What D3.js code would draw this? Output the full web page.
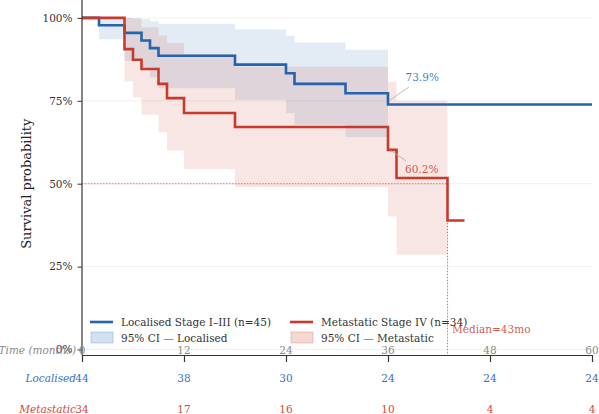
<!DOCTYPE html>
<html>
<head>
<meta charset="utf-8">
<script src="https://cdn.jsdelivr.net/npm/d3@7"></script>
<style>
  body { margin: 0; background: white; }
  svg { display: block; font-family: "DejaVu Serif", serif; }
</style>
</head>
<body>
<div id="vis"></div>
<script>
const SVG = d3.select("#vis").append("svg");
const WIDTH = 599;
const HEIGHT = 414;
SVG.attr("width", WIDTH).attr("height", HEIGHT);

const AZUL = "#2463ad";
const ROJO = "#c83a2c";

// Curvas Kaplan-Meier (tiempo en meses, supervivencia)
const LOCAL_TIEMPOS = [0, 2, 5, 7, 8, 9, 18, 24, 25, 31, 36];
const LOCAL_SUPERV = [1, 0.978, 0.955, 0.932, 0.909, 0.886, 0.859, 0.833, 0.801, 0.773, 0.739];
const LOCAL_FIN = 60;

const META_TIEMPOS = [0, 5, 6, 7, 9, 10, 12, 18, 36, 37, 43];
const META_SUPERV = [1, 0.906, 0.874, 0.846, 0.801, 0.758, 0.713, 0.671, 0.602, 0.517, 0.389];
const META_FIN = 45;

// Intervalos de confianza 95%
const LOCAL_IC_TIEMPOS = [2, 5, 7, 8, 9, 18, 24, 25, 31];
const LOCAL_IC_INF = [0.936, 0.87, 0.845, 0.82, 0.788, 0.753, 0.713, 0.678, 0.641];
const LOCAL_IC_SUP = [1.0, 1.0, 0.997, 0.99, 0.982, 0.965, 0.946, 0.926, 0.904];
const LOCAL_IC_FIN = 36;

const META_IC_TIEMPOS = [5, 6, 7, 9, 10, 12, 18, 36, 37];
const META_IC_INF = [0.808, 0.761, 0.708, 0.655, 0.600, 0.544, 0.490, 0.401, 0.286];
const META_IC_SUP = [1.0, 0.997, 0.972, 0.947, 0.924, 0.891, 0.853, 0.808, 0.75];
const META_IC_FIN = 43;

// Tabla de pacientes en riesgo
const TIEMPOS_TABLA = [0, 12, 24, 36, 48, 60];
const RIESGO_LOCAL = [44, 38, 30, 24, 24, 24];
const RIESGO_META = [34, 17, 16, 10, 4, 4];

const Y_TICKS = [0, 0.25, 0.5, 0.75, 1];
const MEDIANA_META = 43;

const escalaX = d3.scaleLinear().domain([0, 60]).range([82, 592]);
const escalaY = d3.scaleLinear().domain([-0.0166, 1.054]).range([355, 0]);

// grilla
SVG.append("g")
  .selectAll("line")
  .data(Y_TICKS)
  .join("line")
  .attr("x1", escalaX(0))
  .attr("x2", escalaX(60))
  .attr("y1", d => escalaY(d))
  .attr("y2", d => escalaY(d))
  .attr("stroke", "#ececec")
  .attr("stroke-width", 0.8);

function pasos(tiempos, valores, fin) {
  const pts = tiempos.map((t, i) => ({ t: t, v: valores[i] }));
  pts.push({ t: fin, v: valores[valores.length - 1] });
  return pts;
}

function bandas(tiempos, inf, sup, fin) {
  const pts = tiempos.map((t, i) => ({ t: t, lo: inf[i], hi: sup[i] }));
  pts.push({ t: fin, lo: inf[inf.length - 1], hi: sup[sup.length - 1] });
  return pts;
}

const area = d3.area()
  .curve(d3.curveStepAfter)
  .x(d => escalaX(d.t))
  .y0(d => escalaY(d.lo))
  .y1(d => escalaY(d.hi));

const linea = d3.line()
  .curve(d3.curveStepAfter)
  .x(d => escalaX(d.t))
  .y(d => escalaY(d.v));

SVG.append("path")
  .attr("d", area(bandas(LOCAL_IC_TIEMPOS, LOCAL_IC_INF, LOCAL_IC_SUP, LOCAL_IC_FIN)))
  .attr("fill", AZUL)
  .attr("opacity", 0.13);

SVG.append("path")
  .attr("d", area(bandas(META_IC_TIEMPOS, META_IC_INF, META_IC_SUP, META_IC_FIN)))
  .attr("fill", ROJO)
  .attr("opacity", 0.13);

// mediana
SVG.append("line")
  .attr("x1", escalaX(0))
  .attr("x2", escalaX(MEDIANA_META))
  .attr("y1", escalaY(0.5))
  .attr("y2", escalaY(0.5))
  .attr("stroke", "#e07a6e")
  .attr("stroke-width", 1.1)
  .attr("stroke-dasharray", "1.5,1.5");

SVG.append("line")
  .attr("x1", escalaX(MEDIANA_META))
  .attr("x2", escalaX(MEDIANA_META))
  .attr("y1", escalaY(0.5))
  .attr("y2", escalaY(-0.0166))
  .attr("stroke", "#e07a6e")
  .attr("stroke-width", 1.1)
  .attr("stroke-dasharray", "1.5,1.5");

SVG.append("text")
  .attr("x", escalaX(MEDIANA_META) + 4.5)
  .attr("y", 333)
  .attr("font-size", 10.5)
  .attr("fill", ROJO)
  .attr("fill-opacity", 0.85)
  .text(`Median=${MEDIANA_META}mo`);

SVG.append("path")
  .attr("d", linea(pasos(LOCAL_TIEMPOS, LOCAL_SUPERV, LOCAL_FIN)))
  .attr("fill", "none")
  .attr("stroke", AZUL)
  .attr("stroke-width", 2.6);

SVG.append("path")
  .attr("d", linea(pasos(META_TIEMPOS, META_SUPERV, META_FIN)))
  .attr("fill", "none")
  .attr("stroke", ROJO)
  .attr("stroke-width", 2.6);

// anotaciones de supervivencia a 36 meses
const anotaciones = [
  { t: 36, v: LOCAL_SUPERV[10], color: AZUL, l1: [1.5, -4], l2: [21, -17.5], txt: [17.5, -23] },
  { t: 36, v: META_SUPERV[8], color: ROJO, l1: [2.5, 0.5], l2: [18, 11], txt: [17, 23.5] }
];

anotaciones.forEach(a => {
  const x = escalaX(a.t);
  const y = escalaY(a.v);
  SVG.append("line")
    .attr("x1", x + a.l1[0]).attr("y1", y + a.l1[1])
    .attr("x2", x + a.l2[0]).attr("y2", y + a.l2[1])
    .attr("stroke", "#aaaaaa")
    .attr("stroke-width", 0.8);
  SVG.append("text")
    .attr("x", x + a.txt[0])
    .attr("y", y + a.txt[1])
    .attr("font-size", 10.5)
    .attr("fill", a.color)
    .attr("fill-opacity", 0.85)
    .text(d3.format(".1%")(a.v));
});

// ejes
const ejeY = SVG.append("g")
  .attr("transform", `translate(${escalaX(0)},0)`)
  .call(d3.axisLeft(escalaY).tickValues(Y_TICKS).tickFormat(d3.format(".0%")).tickSize(4.5).tickPadding(5));
ejeY.select(".domain").attr("d", `M0,${escalaY(-0.0166)}V0`).attr("stroke", "#333").attr("stroke-width", 1.2);
ejeY.selectAll("text").attr("font-family", "DejaVu Serif").attr("font-size", 10.5).attr("fill", "#333");
ejeY.selectAll(".tick line").attr("stroke", "#333");

const ejeX = SVG.append("g")
  .attr("transform", `translate(0,${escalaY(-0.0166)})`)
  .call(d3.axisBottom(escalaX).tickValues(TIEMPOS_TABLA).tickFormat("").tickSize(7).tickSizeOuter(0));
ejeX.select(".domain").attr("stroke", "#333").attr("stroke-width", 1.2);
ejeX.selectAll(".tick line").attr("stroke", "#333").attr("stroke-width", 1.2);

SVG.append("text")
  .attr("transform", `translate(31, ${escalaY(0.5)}) rotate(-90)`)
  .attr("text-anchor", "middle")
  .attr("font-size", 13)
  .attr("fill", "#222")
  .text("Survival probability");

// leyenda
const leyenda = [
  { x: 90, y: 322, tipo: "linea", color: AZUL, texto: "Localised Stage I\u2013III (n=45)" },
  { x: 90, y: 338, tipo: "parche", color: AZUL, texto: "95% CI \u2014 Localised" },
  { x: 290, y: 322, tipo: "linea", color: ROJO, texto: "Metastatic Stage IV (n=34)" },
  { x: 290, y: 338, tipo: "parche", color: ROJO, texto: "95% CI \u2014 Metastatic" }
];

const G = SVG.append("g").selectAll("g").data(leyenda).join("g")
  .attr("transform", d => `translate(${d.x},${d.y})`);

G.filter(d => d.tipo === "linea").append("line")
  .attr("x1", 0).attr("x2", 23).attr("y1", 0).attr("y2", 0)
  .attr("stroke", d => d.color).attr("stroke-width", 2.6);

G.filter(d => d.tipo === "parche").append("rect")
  .attr("x", 1).attr("y", -6).attr("width", 22).attr("height", 11)
  .attr("fill", d => d.color).attr("fill-opacity", 0.2)
  .attr("stroke", d => d.color).attr("stroke-opacity", 0.25);

G.append("text")
  .attr("x", 31).attr("y", 0).attr("dy", "0.35em")
  .attr("font-size", 10.5).attr("fill", "#333")
  .text(d => d.texto);

// tabla en riesgo
const filas = [
  { nombre: "Time (months)", y: 350, color: "#8a8a8a", valores: TIEMPOS_TABLA },
  { nombre: "Localised", y: 378, color: "#3a6fbf", valores: RIESGO_LOCAL },
  { nombre: "Metastatic", y: 409, color: "#d2493a", valores: RIESGO_META }
];

filas.forEach(f => {
  SVG.append("text")
    .attr("x", 76).attr("y", f.y).attr("dy", "0.35em")
    .attr("text-anchor", "end")
    .attr("font-style", "italic")
    .attr("font-size", 10.5)
    .attr("fill", f.color)
    .text(f.nombre);
  SVG.append("g").selectAll("text").data(f.valores).join("text")
    .attr("x", (d, i) => escalaX(TIEMPOS_TABLA[i]))
    .attr("y", f.y).attr("dy", "0.35em")
    .attr("text-anchor", "middle")
    .attr("font-size", 10.5)
    .attr("fill", f.color)
    .text(d => d);
});
</script>
</body>
</html>
